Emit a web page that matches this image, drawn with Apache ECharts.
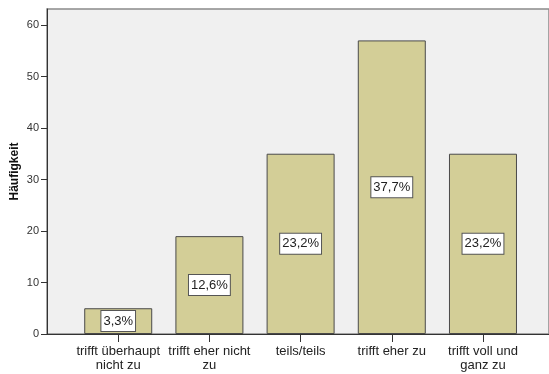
<!DOCTYPE html>
<html><head><meta charset="utf-8">
<script src="https://cdn.jsdelivr.net/npm/echarts@6/dist/echarts.min.js"></script>
<style>html,body{margin:0;padding:0;background:#fff}#c{width:549px;height:374px}</style>
</head><body><div id="c"></div>
<script>
var categories = ["trifft überhaupt\nnicht zu", "trifft eher nicht\nzu", "teils/teils", "trifft eher zu", "trifft voll und\nganz zu"];
var counts = [5, 19, 35, 57, 35];
var percentLabels = ["3,3%", "12,6%", "23,2%", "37,7%", "23,2%"];
var yTicks = [0, 10, 20, 30, 40, 50, 60];
var yTitle = 'Häufigkeit';

var chart = echarts.init(document.getElementById('c'), null, {renderer: 'canvas'});
var font = '"Liberation Sans", Arial, sans-serif';
var xIdx = categories.map(function(c, i){return i;});
chart.setOption({
  animation: false,
  grid: {left: 47, right: 0, top: 9, bottom: 40, outerBoundsMode: 'none', containLabel: false, show: true, backgroundColor: '#f0f0f0', borderColor: '#8a8a8a', borderWidth: 1.5},
  graphic: [{
    type: 'text', x: 15, y: 171.5, rotation: Math.PI / 2,
    style: {text: yTitle, align: 'center', verticalAlign: 'middle', fill: '#111', font: 'bold 12px "Liberation Sans", Arial, sans-serif'}
  }],
  xAxis: {
    type: 'value', min: -0.781, max: 4.724,
    splitLine: {show: false},
    axisLine: {show: true, onZero: false, lineStyle: {color: '#333', width: 1}},
    axisTick: {show: true, length: 8, customValues: xIdx, lineStyle: {color: '#333'}},
    axisLabel: {customValues: xIdx, formatter: function(v){return categories[Math.round(v)];}, fontFamily: font, fontSize: 13, color: '#222', lineHeight: 14, margin: 10}
  },
  yAxis: {
    type: 'value', min: 0, max: 63.1,
    splitLine: {show: false},
    axisLine: {show: true, onZero: false, lineStyle: {color: '#333', width: 1}},
    axisTick: {show: true, length: 6, customValues: yTicks, lineStyle: {color: '#333'}},
    axisLabel: {customValues: yTicks, fontFamily: font, fontSize: 11, color: '#333', margin: 8}
  },
  series: [{
    type: 'bar',
    barWidth: 68,
    data: counts.map(function(v, i){return [i, v];}),
    itemStyle: {color: '#d3ce97', borderColor: '#4a4a4a', borderWidth: 1},
    label: {
      show: true, position: 'inside',
      formatter: function(p){return percentLabels[p.dataIndex];},
      fontFamily: font, fontSize: 13, color: '#222',
      backgroundColor: '#fff', borderColor: '#555', borderWidth: 1, padding: [4, 2, 3, 2]
    }
  }]
});
</script></body></html>
